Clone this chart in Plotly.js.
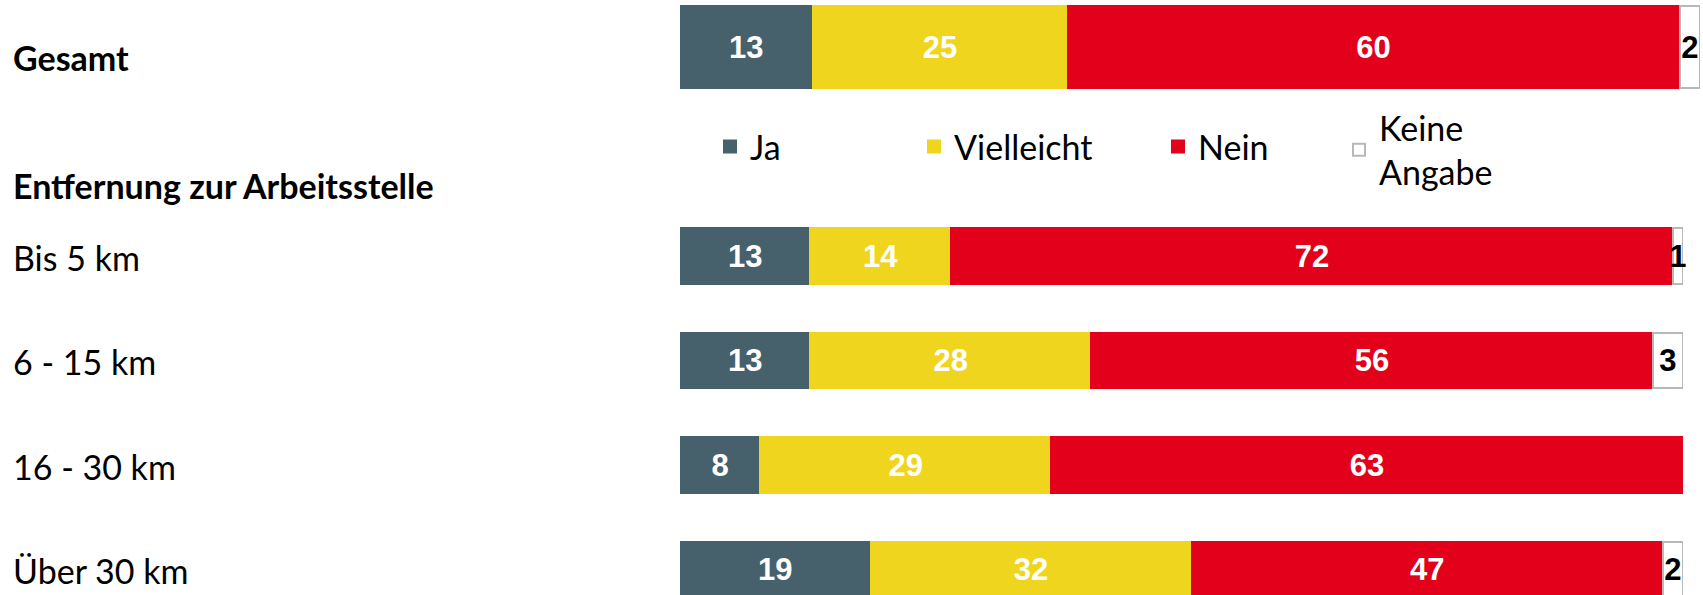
<!DOCTYPE html>
<html>
<head>
<meta charset="utf-8">
<script src="https://cdn.plot.ly/plotly-3.0.1.min.js"></script>
<style>html,body{margin:0;padding:0;background:#fff;}#chart{width:1703px;height:595px;}</style>
</head>
<body>
<div id="chart"></div>
<script>
// ---- data ----
const categories = ['Gesamt', 'Bis 5 km', '6 - 15 km', '16 - 30 km', 'Über 30 km'];
const ja = [13, 13, 13, 8, 19];
const vielleicht = [25, 14, 28, 29, 32];
const nein = [60, 72, 56, 63, 47];
const keineAngabe = [2, 1, 3, 0, 2];
const seriesNames = ['Ja', 'Vielleicht', 'Nein', 'Keine<br>Angabe'];
const sectionHeading = 'Entfernung zur Arbeitsstelle';

// ---- layout helpers ----
const W = 1703, H = 595;
const slot = categories.map((c, i) => i === 0 ? 0 : i + 1);   // gap row after "Gesamt"
const widths = categories.map((c, i) => i === 0 ? 0.79 : 0.53);
const colors = ['#46616c', '#f0d51f', '#e2001a', '#ffffff'];
const barFont = {family: 'Liberation Sans Narrow, Liberation Sans, Arial, sans-serif', size: 31};
const labelFamily = 'Lato, Carlito, Calibri, sans-serif';
const fs = 34;

function txt(arr) { return arr.map(v => v > 0 ? String(v) : ''); }

const allSeries = [ja, vielleicht, nein, keineAngabe];
const legendIds = ['legend', 'legend2', 'legend3', 'legend4'];
const panels = [
  {rows: [0], xaxis: 'x'},
  {rows: categories.map((c, i) => i).filter(i => i > 0), xaxis: 'x2'}
];
const traces = [];
panels.forEach((p, pi) => {
  allSeries.forEach((vals, k) => {
    const v = p.rows.map(i => vals[i]);
    traces.push({
      type: 'bar',
      orientation: 'h',
      name: seriesNames[k],
      x: v,
      y: p.rows.map(i => slot[i]),
      width: p.rows.map(i => widths[i]),
      xaxis: p.xaxis, yaxis: 'y',
      text: txt(v),
      textposition: 'inside',
      insidetextanchor: 'middle',
      textangle: 0,
      constraintext: 'none',
      cliponaxis: false,
      textfont: Object.assign({}, barFont, {color: k === 3 ? '#000000' : '#ffffff', weight: 'bold'}),
      marker: {
        color: colors[k],
        line: k === 3
          ? {color: '#b8b8b8', width: v.map(x => x > 0 ? 2 : 0)}
          : {color: colors[k], width: 2}
      },
      showlegend: pi === 0,
      legend: legendIds[k],
      hoverinfo: 'skip'
    });
  });
});

const py = p => 1 - p / H;   // pixel y -> paper y
const px = p => p / W;       // pixel x -> paper x

const annotations = categories.map((c, i) => ({
  xref: 'paper', yref: 'y',
  x: px(11), y: slot[i],
  xanchor: 'left', yanchor: 'middle',
  yshift: i === 0 ? -10 : -1,
  text: i === 0 ? '<b>' + c + '</b>' : c,
  showarrow: false,
  font: {family: labelFamily, size: fs, color: '#000'}
}));
annotations.push({
  xref: 'paper', yref: 'paper',
  x: px(11), y: py(185),
  xanchor: 'left', yanchor: 'middle',
  text: '<b>' + sectionHeading + '</b>',
  showarrow: false,
  font: {family: labelFamily, size: fs, color: '#000'}
});

const legFont = {family: labelFamily, size: fs, color: '#000'};
const legendX = [710, 914, 1158, 1339];
const legendY = [147, 147, 147, 150];
const layout = {
  width: W, height: H,
  margin: {l: 0, r: 0, t: 0, b: 0},
  paper_bgcolor: '#fff', plot_bgcolor: 'rgba(0,0,0,0)',
  barmode: 'stack',
  showlegend: true,
  xaxis: {domain: [px(680), px(1700)], range: [0, 100], visible: false, fixedrange: true, anchor: 'y'},
  xaxis2: {domain: [px(680), px(1683)], range: [0, 100], visible: false, fixedrange: true, anchor: 'y'},
  yaxis: {range: [(H - 47) / 104.5, -47 / 104.5], visible: false, fixedrange: true},
  annotations: annotations,
  font: {family: labelFamily}
};
legendIds.forEach((id, k) => {
  layout[id] = {
    x: px(legendX[k]), y: py(legendY[k]),
    xanchor: 'left', yanchor: 'middle',
    orientation: 'h',
    bgcolor: 'rgba(0,0,0,0)',
    font: legFont,
    itemclick: false, itemdoubleclick: false
  };
});

Plotly.newPlot('chart', traces, layout, {displayModeBar: false, staticPlot: true});
</script>
</body>
</html>
